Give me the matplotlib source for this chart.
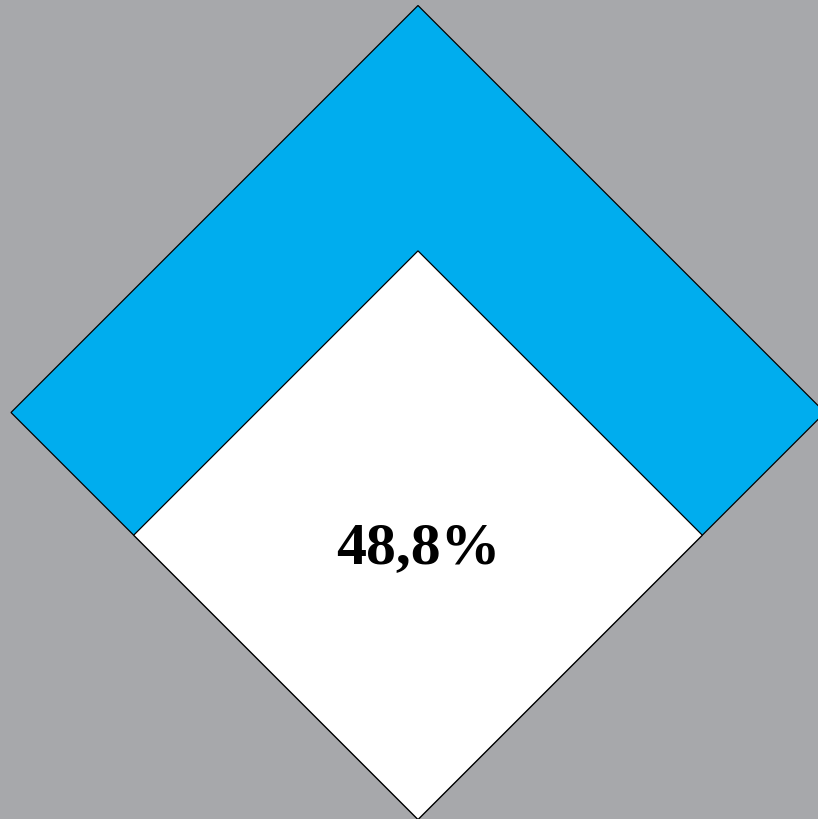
### diamond share chart
import numpy as np
import matplotlib.pyplot as plt
from matplotlib.patches import Polygon

### data
share_value = 48.8
share_label = "48,8%"

### colours
bg_color = "#a7a8ab"
outer_color = "#00adee"
inner_color = "#ffffff"

W, H = 818, 820
fig = plt.figure(figsize=(W / 100, H / 100), dpi=100)
fig.patch.set_facecolor(bg_color)
ax = fig.add_axes([0, 0, 1, 1])
ax.set_xlim(0, W)
ax.set_ylim(H, 0)
ax.axis("off")

### outer diamond
cx, cy, half = 418, 413.5, 407
def diamond(cx, cy, h):
    return np.array([[cx, cy - h], [cx + h, cy], [cx, cy + h], [cx - h, cy]])

ax.add_patch(Polygon(diamond(cx, cy, half), closed=True, facecolor=outer_color,
                     edgecolor="black", linewidth=0.9))

### inner diamond shares the bottom corner, area = share
h_in = half * np.sqrt(share_value / 100)
bottom = cy + half
ax.add_patch(Polygon(diamond(cx, bottom - h_in, h_in), closed=True, facecolor=inner_color,
                     edgecolor="black", linewidth=0.9))

ax.text(cx, 549, share_label, ha="center", va="center", fontsize=43,
        fontweight="bold", family="Liberation Serif", color="black")

fig.savefig("out.png", dpi=100, facecolor=bg_color)
